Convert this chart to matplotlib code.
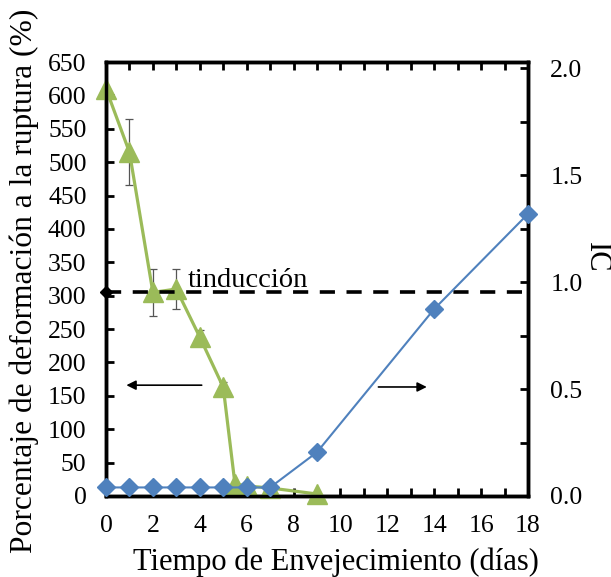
import matplotlib
matplotlib.use('Agg')
import matplotlib.pyplot as plt
from matplotlib.ticker import MultipleLocator

plt.rcParams['font.family'] = ['Liberation Serif', 'DejaVu Serif']

# datos de deformacion a la ruptura (eje izquierdo)
dias_def = [0, 1, 2, 3, 4, 5, 5.5, 6, 7, 9]
deformacion = [610, 515, 305, 310, 238, 163, 18, 15, 12, 3]
err_def = [0, 49, 35, 30, 10, 8, 0, 0, 0, 0]

# indice de carbonilo (eje derecho)
dias_ic = [0, 1, 2, 3, 4, 5, 6, 7, 9, 14, 18]
ic = [0.04, 0.04, 0.04, 0.04, 0.04, 0.04, 0.04, 0.04, 0.205, 0.875, 1.32]

# linea de tiempo de induccion
dias_ind = [0, 18]
ind = [305, 305]

x_ticks = list(range(0, 19, 2))
ic_ticks = [0, 0.5, 1.0, 1.5, 2.0]
ic_labels = ['0.0', '0.5', '1.0', '1.5', '2.0']

fig = plt.figure(figsize=(6.11, 5.77), dpi=100)
ax = fig.add_axes([0.1735, 0.1404, 0.6907, 0.752])
ax2 = ax.twinx()

green = '#9BBB59'
blue = '#4F81BD'

ax.errorbar(dias_def, deformacion, yerr=err_def, color=green, lw=2.3,
            marker='^', markersize=14, ecolor='#555555', elinewidth=0.9,
            capsize=3, capthick=0.9, zorder=3, clip_on=False)
ax.plot(dias_ind, ind, color='black', lw=2.6, dashes=(4.2, 3.2),
        marker='D', markersize=6, markevery=[0], clip_on=False, zorder=4)
ax2.plot(dias_ic, ic, color=blue, lw=1.5, marker='D', markersize=9,
         clip_on=False, zorder=3)

ax.set_xlim(0, 18)
ax.set_ylim(0, 650)
ax2.set_ylim(0, 2.03)

ax.set_xticks(x_ticks)
ax.xaxis.set_minor_locator(MultipleLocator(1))
ax.yaxis.set_major_locator(MultipleLocator(50))
ax2.yaxis.set_minor_locator(MultipleLocator(0.25))
ax2.set_yticks(ic_ticks)
ax2.set_yticklabels(ic_labels)

ax.tick_params(axis='both', which='both', direction='in', labelsize=18.5,
               width=2, color='black')
ax.tick_params(axis='x', which='both', top=True, length=6, pad=14)
ax.tick_params(axis='y', which='major', length=6, pad=14)
ax2.tick_params(axis='y', which='both', direction='in', labelsize=18.5,
                width=2, length=6, pad=16)

for a in (ax, ax2):
    for s in a.spines.values():
        s.set_linewidth(2.5)

ax.set_xlabel('Tiempo de Envejecimiento (días)', fontsize=22)
ax.xaxis.set_label_coords(0.545, -0.118)
ax.set_ylabel('Porcentaje de deformación a la ruptura (%)', fontsize=22.7)
ax.yaxis.set_label_coords(-0.158, 0.495)
ax2.set_ylabel('IC', fontsize=22, rotation=270, va='center')
ax2.yaxis.set_label_coords(1.163, 0.55)

ax.text(3.5, 313, 'tinducción', fontsize=20.5, zorder=5)

# flechas indicando el eje correspondiente
ax.annotate('', xy=(0.75, 166), xytext=(4.2, 166),
            arrowprops=dict(arrowstyle='-|>', color='black', lw=1.2,
                            mutation_scale=14))
ax2.annotate('', xy=(13.8, 0.51), xytext=(11.5, 0.51),
             arrowprops=dict(arrowstyle='-|>', color='black', lw=1.2,
                             mutation_scale=14))

fig.savefig('out.png', dpi=100)
